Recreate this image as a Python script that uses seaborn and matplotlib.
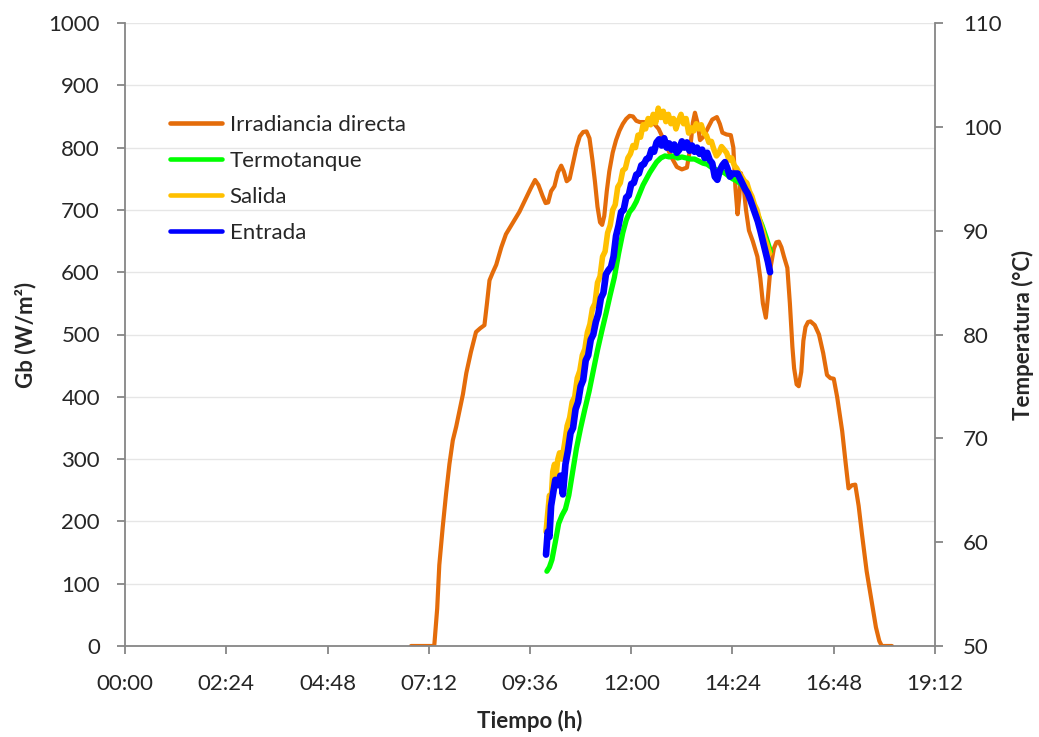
import matplotlib
matplotlib.use("Agg")
import matplotlib.pyplot as plt
import seaborn as sns
from matplotlib.ticker import FuncFormatter

# ---------------- data ----------------
# Direct irradiance (W/m2) against time of day (hours)
irr_h = [6.78, 7.33, 7.40, 7.45, 7.53, 7.61, 7.69, 7.77, 7.85, 7.93, 8.01, 8.09, 8.20, 8.32,
         8.42, 8.52, 8.58, 8.64, 8.72, 8.80, 8.92, 9.03, 9.20, 9.35, 9.50, 9.62, 9.72, 9.80,
         9.90, 9.97, 10.03, 10.10, 10.18, 10.26, 10.34, 10.40, 10.47, 10.54, 10.62, 10.70,
         10.78, 10.86, 10.94, 11.01, 11.08, 11.14, 11.20, 11.26, 11.31, 11.36, 11.42, 11.48,
         11.56, 11.64, 11.72, 11.80, 11.88, 11.96, 12.04, 12.12, 12.20, 12.35, 12.51, 12.65,
         12.80, 12.95, 13.08, 13.20, 13.32, 13.40, 13.46, 13.51, 13.57, 13.63, 13.72, 13.82,
         13.92, 14.03, 14.10, 14.16, 14.26, 14.36, 14.42, 14.47, 14.52, 14.56, 14.60, 14.66,
         14.72, 14.79, 14.88, 14.99, 15.06, 15.12, 15.19, 15.24, 15.30, 15.38, 15.44, 15.50,
         15.56, 15.62, 15.70, 15.76, 15.82, 15.86, 15.92, 15.97, 16.03, 16.08, 16.13, 16.19,
         16.25, 16.35, 16.45, 16.55, 16.64, 16.72, 16.80, 16.88, 17.00, 17.08, 17.15, 17.23,
         17.31, 17.39, 17.47, 17.58, 17.70, 17.80, 17.88, 17.94, 18.18]
irr_w = [0, 0, 60, 130, 190, 244, 292, 330, 352, 378, 404, 438, 472, 504,
         510, 515, 550, 587, 600, 612, 640, 661, 680, 697, 718, 735, 748, 740,
         722, 711, 712, 730, 738, 760, 771, 762, 746, 750, 775, 800,
         818, 825, 826, 815, 780, 745, 705, 680, 676, 690, 730, 762,
         792, 812, 827, 838, 846, 851, 850, 843, 841, 841, 841, 830,
         808, 785, 769, 765, 768, 800, 840, 856, 840, 812, 818, 832,
         845, 849, 838, 824, 821, 820, 800, 735, 693, 720, 759, 740,
         700, 667, 650, 625, 590, 550, 527, 560, 607, 638, 648, 649,
         640, 625, 607, 550, 480, 446, 420, 417, 440, 490, 512, 520,
         521, 515, 500, 470, 435, 430, 429, 400, 345, 295, 253, 258,
         259, 225, 179, 120, 71, 30, 8, 0, 0]

# Tank temperature (degC)
tank_h = [10.00, 10.06, 10.12, 10.20, 10.28, 10.36, 10.44, 10.52, 10.60, 10.70, 10.80, 10.90,
          11.00, 11.10, 11.20, 11.30, 11.40, 11.50, 11.60, 11.70, 11.80, 11.88, 11.96, 12.04,
          12.12, 12.20, 12.28, 12.36, 12.44, 12.52, 12.60, 12.70, 12.80, 12.90, 13.00, 13.10,
          13.20, 13.30, 13.40, 13.50, 13.60, 13.70, 13.80, 13.90, 14.00, 14.10, 14.20, 14.30,
          14.40, 14.50, 14.60, 14.70, 14.80, 14.90, 15.00, 15.10, 15.20, 15.30]
tank_t = [57.2, 57.6, 58.3, 60.0, 61.8, 62.6, 63.2, 64.5, 66.5, 69.0, 71.0, 72.8,
          74.5, 76.5, 78.5, 80.3, 82.0, 83.8, 85.5, 87.8, 89.8, 91.0, 91.8, 92.2,
          92.8, 93.6, 94.4, 95.0, 95.6, 96.1, 96.6, 97.0, 97.2, 97.1, 97.2, 97.0,
          97.1, 97.0, 96.9, 96.9, 96.7, 96.5, 96.4, 96.1, 95.9, 95.7, 95.6, 95.3,
          95.0, 94.8, 94.5, 94.0, 93.5, 92.5, 91.5, 90.5, 89.3, 88.0]

# Collector outlet temperature (degC)
out_h = [9.98, 10.02, 10.06, 10.10, 10.14, 10.18, 10.22, 10.26, 10.30, 10.36, 10.42, 10.48,
         10.54, 10.60, 10.66, 10.72, 10.78, 10.84, 10.90, 10.96, 11.02, 11.08, 11.14, 11.20,
         11.26, 11.32, 11.38, 11.44, 11.50, 11.56, 11.62, 11.68, 11.74, 11.80, 11.86, 11.92,
         11.98, 12.04, 12.10, 12.16, 12.22, 12.28, 12.34, 12.40, 12.46, 12.52, 12.58, 12.64,
         12.70, 12.76, 12.82, 12.88, 12.94, 13.00, 13.06, 13.12, 13.18, 13.24, 13.30, 13.36,
         13.42, 13.48, 13.54, 13.60, 13.66, 13.72, 13.78, 13.84, 13.90, 13.96, 14.02, 14.08,
         14.14, 14.20, 14.26, 14.32, 14.38, 14.44, 14.50, 14.56, 14.62, 14.68, 14.74, 14.80,
         14.86, 14.92, 14.98, 15.04, 15.10, 15.16, 15.22, 15.28]
out_t = [61.0, 62.8, 64.5, 64.0, 66.8, 67.5, 66.5, 68.0, 68.6, 68.0, 69.5, 71.2,
         72.0, 73.5, 74.0, 75.8, 76.5, 78.0, 78.6, 80.2, 81.0, 82.5, 83.0, 85.0,
         85.6, 87.5, 88.0, 89.8, 90.5, 92.0, 92.5, 94.2, 94.6, 95.8, 96.0, 97.0,
         97.4, 98.2, 98.0, 99.2, 99.0, 100.2, 99.8, 100.8, 100.2, 101.2, 100.4, 101.8,
         100.9, 101.5, 100.5, 101.2, 100.3, 100.8, 99.8, 100.6, 101.2, 100.3, 100.8, 99.4,
         99.9, 99.6, 100.3, 99.8, 100.2, 99.4, 99.2, 98.5, 98.6, 97.8, 97.2, 97.5,
         98.1, 97.8, 97.5, 96.8, 97.0, 96.3, 96.0, 95.5, 95.2, 94.8, 94.6, 93.8,
         93.3, 92.5, 92.0, 91.0, 90.2, 89.3, 88.6, 87.8]

# Collector inlet temperature (degC)
in_h = [9.98, 10.02, 10.06, 10.10, 10.14, 10.20, 10.26, 10.32, 10.38, 10.44, 10.50, 10.56,
        10.62, 10.68, 10.74, 10.80, 10.86, 10.92, 10.98, 11.04, 11.10, 11.16, 11.22, 11.28,
        11.34, 11.40, 11.46, 11.52, 11.58, 11.64, 11.70, 11.76, 11.82, 11.88, 11.94, 12.00,
        12.06, 12.12, 12.18, 12.24, 12.30, 12.36, 12.42, 12.48, 12.54, 12.60, 12.66, 12.72,
        12.78, 12.84, 12.90, 12.96, 13.02, 13.08, 13.14, 13.20, 13.26, 13.32, 13.38, 13.44,
        13.50, 13.56, 13.62, 13.68, 13.74, 13.80, 13.86, 13.92, 13.98, 14.04, 14.10, 14.16,
        14.22, 14.28, 14.34, 14.40, 14.46, 14.52, 14.58, 14.64, 14.70, 14.76, 14.82, 14.88,
        14.94, 15.00, 15.06, 15.12, 15.18, 15.24, 15.29]
in_t = [58.8, 61.0, 60.5, 63.5, 64.5, 66.0, 65.5, 66.4, 64.6, 67.5, 68.8, 70.5,
        71.0, 72.8, 73.5, 75.0, 75.6, 77.5, 78.0, 79.5, 80.0, 81.2, 82.0, 83.5,
        84.0, 85.8, 86.2, 86.5, 87.5, 89.5, 90.5, 91.8, 92.0, 93.2, 93.4, 94.5,
        94.6, 95.4, 95.5, 96.3, 96.4, 96.9, 97.0, 97.8, 97.6, 98.5, 98.8, 98.2,
        98.9, 98.0, 98.4, 97.8, 98.3, 97.5, 97.8, 98.6, 98.0, 98.5, 97.7, 98.2,
        97.6, 98.0, 97.4, 97.8, 97.0, 97.5, 96.8, 96.5, 95.2, 94.9, 95.8, 96.3,
        96.6, 96.0, 95.2, 95.5, 95.5, 95.5, 95.0, 94.5, 94.0, 93.6, 93.0, 92.3,
        91.6, 90.9, 90.0, 89.0, 88.0, 87.0, 86.0]

labels = ["Irradiancia directa", "Termotanque", "Salida", "Entrada"]
colors = ["#E46C0A", "#00FF00", "#FFC000", "#0000FF"]

gb_ticks = list(range(0, 1001, 100))
temp_ticks = list(range(50, 111, 10))
time_ticks = [i * 2.4 for i in range(9)]

# ---------------- style ----------------
sns.set_theme(style="white")
plt.rcParams["font.family"] = ["Lato", "DejaVu Sans"]
axis_grey = "#868686"
FS = 16

fig = plt.figure(figsize=(10.39, 7.37), dpi=100)
ax = fig.add_axes([125 / 1039, 1 - 646 / 737, 810 / 1039, 623 / 737])
ax2 = ax.twinx()

line_kw = dict(estimator=None, sort=False, solid_joinstyle="round", solid_capstyle="round")

sns.lineplot(x=irr_h, y=irr_w, ax=ax, color=colors[0], lw=3.0, label=labels[0], **line_kw)
sns.lineplot(x=tank_h, y=tank_t, ax=ax2, color=colors[1], lw=3.8, label=labels[1], **line_kw)
sns.lineplot(x=out_h, y=out_t, ax=ax2, color=colors[2], lw=4.0, label=labels[2], **line_kw)
sns.lineplot(x=in_h, y=in_t, ax=ax2, color=colors[3], lw=4.8, label=labels[3], **line_kw)

# ---------------- axes ----------------
def hhmm(v, pos):
    minutes = int(round(v * 60))
    return f"{minutes // 60:02d}:{minutes % 60:02d}"

ax.set_xlim(0, 19.2)
ax.set_xticks(time_ticks)
ax.xaxis.set_major_formatter(FuncFormatter(hhmm))
ax.set_ylim(0, 1000)
ax.set_yticks(gb_ticks)
ax2.set_ylim(50, 110)
ax2.set_yticks(temp_ticks)

ax.yaxis.grid(True, color="#E6E6E6", lw=1.0)
ax.xaxis.grid(False)
ax.set_axisbelow(True)

for a in (ax, ax2):
    for s in a.spines.values():
        s.set_visible(False)
ax.spines["left"].set_visible(True)
ax.spines["bottom"].set_visible(True)
ax2.spines["right"].set_visible(True)
for s in (ax.spines["left"], ax.spines["bottom"], ax2.spines["right"]):
    s.set_color(axis_grey)
    s.set_linewidth(1.3)

ax.tick_params(axis="x", bottom=True, direction="out", length=6, width=1.3,
               color=axis_grey, labelsize=FS, pad=14)
ax.tick_params(axis="y", left=True, direction="out", length=6, width=1.3,
               color=axis_grey, labelsize=FS, pad=12)
ax2.tick_params(axis="y", right=True, direction="out", length=6, width=1.3,
                color=axis_grey, labelsize=FS, pad=14)

ax.set_xlabel("Tiempo (h)", fontsize=FS, fontweight="bold")
ax.set_ylabel("Gb (W/m²)", fontsize=FS, fontweight="bold")
ax2.set_ylabel("Temperatura (°C)", fontsize=FS, fontweight="bold")
ax.xaxis.set_label_coords(0.5, -0.102)
ax.yaxis.set_label_coords(-0.110, 0.5)
ax2.yaxis.set_label_coords(1.095, 0.5)

# ---------------- legend ----------------
h1, l1 = ax.get_legend_handles_labels()
h2, l2 = ax2.get_legend_handles_labels()
if ax.get_legend():
    ax.get_legend().remove()
if ax2.get_legend():
    ax2.get_legend().remove()
leg = ax2.legend(h1 + h2, l1 + l2, loc="upper left", bbox_to_anchor=(0.055, 0.852),
                 frameon=False, fontsize=FS, handlelength=2.35, handletextpad=0.35,
                 labelspacing=0.72, borderaxespad=0, borderpad=0)
for ln in leg.get_lines():
    ln.set_linewidth(3.3)

fig.savefig("out.png", dpi=100)
